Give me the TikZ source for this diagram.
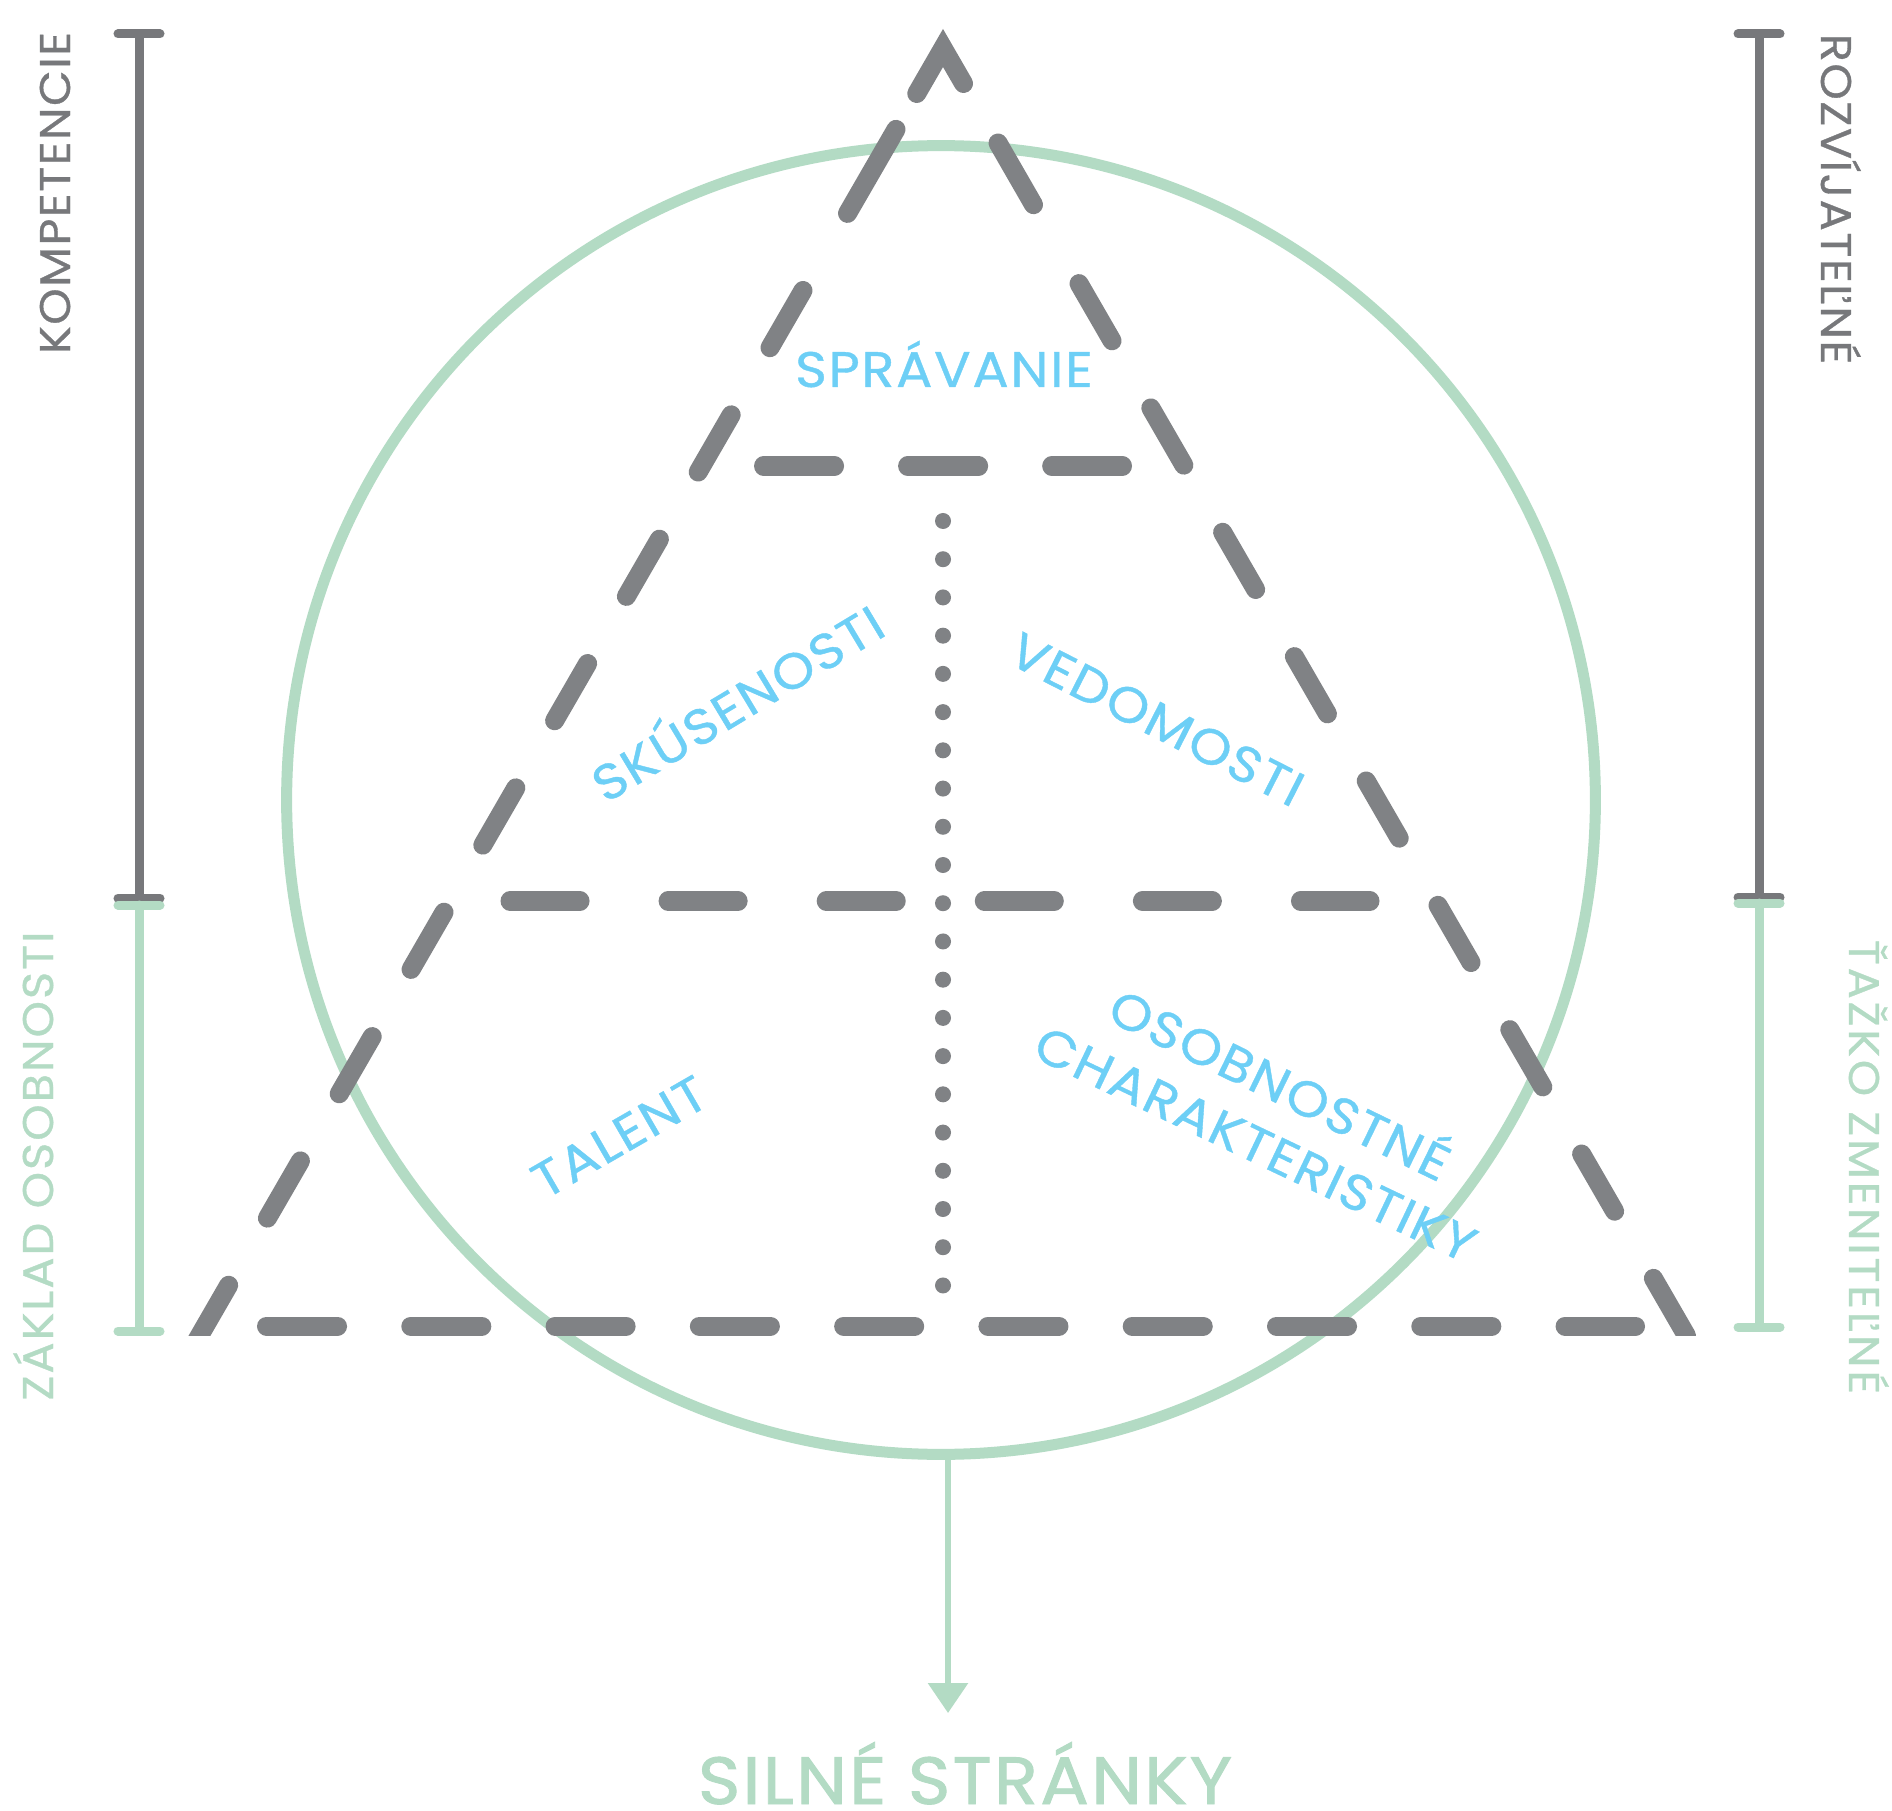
\documentclass[tikz,border=0pt]{standalone}
\usepackage{fontspec}
\setmainfont{Poppins}
\newfontfamily\labfont{Poppins}[FakeStretch=1.08, FakeBold=0.8, LetterSpace=3.5]
\usetikzlibrary{arrows.meta}

\definecolor{tgray}{RGB}{128,130,133}
\definecolor{bgray}{RGB}{119,120,123}
\definecolor{mint}{RGB}{179,219,196}
\definecolor{sky}{RGB}{109,207,246}

\tikzset{
  tri/.style={draw=tgray, line width=0.19cm, line cap=round},
  sidedash/.style={tri, dash pattern=on 0.66cm off 0.775cm},
  bar/.style={line width=0.09cm, line cap=round},
  lab/.style={inner sep=0pt, anchor=base, text=sky, font=\fontsize{14.2}{16}\labfont},
  sidelab/.style={inner sep=0pt, anchor=base, font=\fontsize{12.2}{14}\labfont},
  wide/.style={font=\fontsize{12.2}{14}\labfont\addfontfeatures{LetterSpace=#1}},
}

\begin{document}
\begin{tikzpicture}[x=0.01cm, y=-0.01cm]
    \fill[white] (0,0) rectangle (1892,1810);
    \useasboundingbox (0,0) rectangle (1892,1810);

    \node[draw=mint, line width=0.11cm, circle, minimum size=13.08cm, inner sep=0pt] (ring) at (941,800) {};

    \coordinate (apex) at (943,48);
    \draw[tri, line join=miter] (916.75,93.5) -- (apex) -- (963.5,83.5);
    \draw[tri] (896,129.4) -- (847.5,213.4);
    \draw[tri] (998,143) -- (1033.5,204.7);
    \begin{scope}
      \clip (0,0) rectangle (1892,1335);
      \draw[sidedash] (803,290.5) -- (143,1433.6);
      \draw[sidedash] (1079,283.6) -- (1743,1433.6);
    \end{scope}

    \draw[tri, dash pattern=on 0.71cm off 0.73cm] (763.5,466) -- (1122.5,466);
    \draw[tri, dash pattern=on 0.70cm off 0.88cm] (510,901) -- (1370,901);
    \draw[tri, dash pattern=on 0.71cm off 0.732cm] (266.5,1326) -- (1635.5,1326);
    \draw[tri, line width=0.16cm, dash pattern=on 0pt off 0.382cm] (943,521) -- (943,1286);

    \node[lab] (behav) at (944,387) {SPRÁVANIE};
    \node[lab, rotate=31] (exper) at (747,719) {SKÚSENOSTI};
    \node[lab, rotate=-27] (knowl) at (1149,735) {VEDOMOSTI};
    \node[lab, rotate=30] (talent) at (628,1152) {TALENT};
    \node[lab, rotate=-26] (person) at (1272,1101) {OSOBNOSTNÉ};
    \node[lab, rotate=-25.5] (traits) at (1248,1160) {CHARAKTERISTIKY};

    \draw[bar, bgray] (139,34) -- (139,898);
    \draw[bar, bgray] (118,34) -- (160,34);
    \draw[bar, bgray] (118,898) -- (160,898);
    \draw[bar, mint] (139,905) -- (139,1331);
    \draw[bar, mint] (118,905) -- (160,905);
    \draw[bar, mint] (118,1331) -- (160,1331);

    \draw[bar, bgray] (1759,34) -- (1759,897);
    \draw[bar, bgray] (1738,34) -- (1780,34);
    \draw[bar, bgray] (1738,897) -- (1780,897);
    \draw[bar, mint] (1759,903) -- (1759,1327);
    \draw[bar, mint] (1738,903) -- (1780,903);
    \draw[bar, mint] (1738,1327) -- (1780,1327);

    \node[sidelab, text=bgray, rotate=90] (komp) at (70,193) {KOMPETENCIE};
    \node[sidelab, wide=4.6, text=mint, rotate=90] (base) at (53,1166) {ZÁKLAD OSOBNOSTI};
    \node[sidelab, text=bgray, rotate=-90] (grow) at (1821,199) {ROZVÍJATEĽNÉ};
    \node[sidelab, wide=6.3, text=mint, rotate=-90] (hard) at (1849,1167) {ŤAŽKO ZMENITEĽNÉ};

    \node[anchor=base, inner sep=0pt, text=mint, font=\fontsize{19}{22}\labfont\addfontfeatures{FakeBold=1.4}] (strengths) at (965,1804) {SILNÉ STRÁNKY};
    \coordinate (tip) at (948,1713);
    \draw[mint, line width=0.06cm, -{Triangle[length=0.3cm, width=0.39cm]}] (ring.south -| tip) -- (tip);
\end{tikzpicture}
\end{document}
